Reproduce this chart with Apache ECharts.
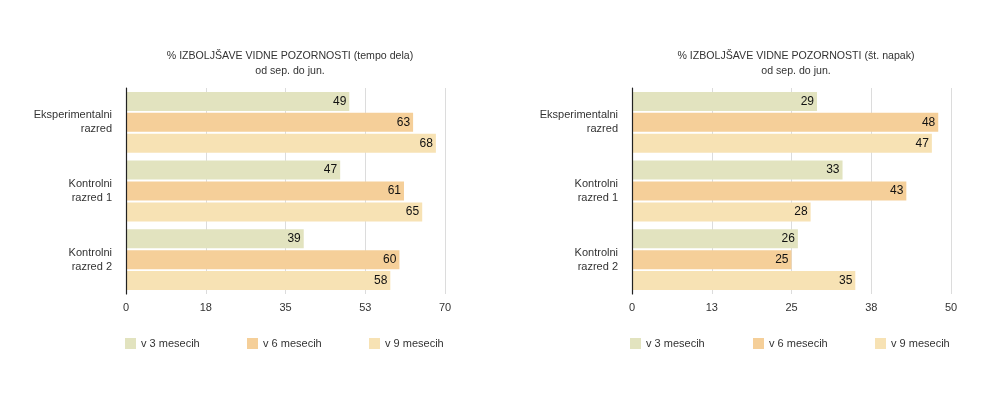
<!DOCTYPE html>
<html>
<head>
<meta charset="utf-8">
<script src="https://cdn.jsdelivr.net/npm/echarts@6/dist/echarts.min.js"></script>
<style>
  html, body { margin: 0; padding: 0; background: #fff; }
  #chart { width: 1004px; height: 397px; }
</style>
</head>
<body>
<div id="chart"></div>
<script>
  // podatki
  const categories = ['Eksperimentalni\nrazred', 'Kontrolni\nrazred 1', 'Kontrolni\nrazred 2'];
  const seriesNames = ['v 3 mesecih', 'v 6 mesecih', 'v 9 mesecih'];
  const tempo3 = [49, 47, 39];
  const tempo6 = [63, 61, 60];
  const tempo9 = [68, 65, 58];
  const napake3 = [29, 33, 26];
  const napake6 = [48, 43, 25];
  const napake9 = [47, 28, 35];
  const leftTitle = '% IZBOLJŠAVE VIDNE POZORNOSTI (tempo dela)\nod sep. do jun.';
  const rightTitle = '% IZBOLJŠAVE VIDNE POZORNOSTI (št. napak)\nod sep. do jun.';

  const colors = ['#e2e3bf', '#f5cf99', '#f7e2b4'];
  const font = '"Liberation Sans", Arial, sans-serif';

  const chart = echarts.init(document.getElementById('chart'));

  function makeSeries(idx, data, name, color) {
    return {
      name: name,
      type: 'bar',
      xAxisIndex: idx,
      yAxisIndex: idx,
      data: data,
      barWidth: 19,
      barGap: '10%',
      itemStyle: { color: color },
      label: {
        show: true,
        position: 'insideRight',
        color: '#111',
        fontSize: 12,
        fontFamily: font,
        distance: 3
      },
      animation: false
    };
  }

  function xAxisFor(idx, max, interval) {
    return {
      type: 'value',
      gridIndex: idx,
      min: 0,
      max: max,
      interval: interval,
      axisLine: { show: false },
      axisTick: { show: false },
      axisLabel: {
        color: '#333',
        fontSize: 11,
        fontFamily: font,
        margin: 8,
        formatter: v => Math.round(v)
      },
      splitLine: { show: true, lineStyle: { color: '#dcdcdc', width: 1 } }
    };
  }

  function yAxisFor(idx) {
    return {
      type: 'category',
      gridIndex: idx,
      data: categories,
      inverse: true,
      z: 5,
      axisLine: { show: true, lineStyle: { color: '#222', width: 1.2 } },
      axisTick: { show: false },
      axisLabel: {
        color: '#333',
        fontSize: 11,
        fontFamily: font,
        lineHeight: 14,
        margin: 14,
        align: 'right'
      }
    };
  }

  function legendFor(name, left) {
    return {
      data: [name],
      left: left,
      top: 333,
      icon: 'rect',
      itemWidth: 11,
      itemHeight: 11,
      itemGap: 6,
      textStyle: { color: '#333', fontSize: 11, fontFamily: font },
      selectedMode: false
    };
  }

  const titleStyle = { color: '#333', fontSize: 10.6, fontWeight: 'normal', fontFamily: font, lineHeight: 15 };

  const option = {
    animation: false,
    title: [
      { text: leftTitle, left: 285, top: 44, textAlign: 'center', textStyle: titleStyle },
      { text: rightTitle, left: 791, top: 44, textAlign: 'center', textStyle: titleStyle }
    ],
    legend: [
      legendFor(seriesNames[0], 120),
      legendFor(seriesNames[1], 242),
      legendFor(seriesNames[2], 364),
      legendFor(seriesNames[0], 625),
      legendFor(seriesNames[1], 748),
      legendFor(seriesNames[2], 870)
    ],
    grid: [
      { left: 126, width: 319, top: 88, height: 206 },
      { left: 632, width: 319, top: 88, height: 206 }
    ],
    xAxis: [xAxisFor(0, 70, 17.5), xAxisFor(1, 50, 12.5)],
    yAxis: [yAxisFor(0), yAxisFor(1)],
    series: [
      makeSeries(0, tempo3, seriesNames[0], colors[0]),
      makeSeries(0, tempo6, seriesNames[1], colors[1]),
      makeSeries(0, tempo9, seriesNames[2], colors[2]),
      makeSeries(1, napake3, seriesNames[0], colors[0]),
      makeSeries(1, napake6, seriesNames[1], colors[1]),
      makeSeries(1, napake9, seriesNames[2], colors[2])
    ]
  };

  chart.setOption(option);
</script>
</body>
</html>
